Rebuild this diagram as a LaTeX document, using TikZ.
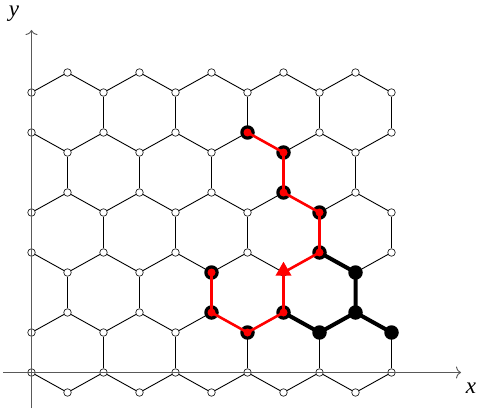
\documentclass[tikz,border=0pt]{standalone}
\usepackage{fontspec}
\setmainfont{Liberation Serif}
\usetikzlibrary{arrows.meta,shapes.geometric}
\begin{document}
\begin{tikzpicture}[x=1pt,y=1pt,
  vtx/.style={circle,draw=black,line width=0.6pt,fill=white,inner sep=0pt,minimum size=7.5pt},
  latedge/.style={black,line width=0.9pt},
  axisline/.style={draw=black!65,line width=0.9pt,-{To[width=12pt,length=5pt]}},
  blackpath/.style={black,line width=4pt},
  redpath/.style={red,line width=2.6pt},
  bigdot/.style={circle,fill=black,inner sep=0pt,minimum size=14.5pt},
  redcore/.style={circle,fill=red,inner sep=0pt,minimum size=8pt},
  tri/.style={regular polygon,regular polygon sides=3,fill=red,inner sep=0pt,minimum size=18.5pt},
  lbl/.style={inner sep=0pt,font=\fontsize{23}{28}\selectfont\itshape}]
\useasboundingbox (0,0) rectangle (480,416);
\begin{scope}[shift={(31.5,43.5)},x=36pt,y=20pt]
  % vertices
  \foreach \i in {0,2,...,10} {
    \foreach \L in {0,2,6,8,12,14} {
      \node[vtx] (v\i x\L) at (\i,\L) {};
    }
  }
  \foreach \i in {1,3,...,9} {
    \foreach \L in {-1,3,5,9,11,15} {
      \node[vtx] (v\i x\L) at (\i,\L) {};
    }
  }
  % vertical edges
  \foreach \i in {0,2,...,10} {
    \foreach \a/\b in {0/2,6/8,12/14} {
      \draw[latedge] (v\i x\a) -- (v\i x\b);
    }
  }
  \foreach \i in {1,3,...,9} {
    \foreach \a/\b in {3/5,9/11} {
      \draw[latedge] (v\i x\a) -- (v\i x\b);
    }
  }
  % diagonal edges
  \foreach \i in {0,2,...,10} {
    \foreach \a/\b in {0/-1,6/5,12/11,2/3,8/9,14/15} {
      \ifnum\i>0
        \pgfmathtruncatemacro{\lft}{\i-1}
        \draw[latedge] (v\i x\a) -- (v\lft x\b);
      \fi
      \ifnum\i<10
        \pgfmathtruncatemacro{\rgt}{\i+1}
        \draw[latedge] (v\i x\a) -- (v\rgt x\b);
      \fi
    }
  }
\end{scope}
% axes
\coordinate (xs) at (3,43.5);
\coordinate (xe) at (461,43.5);
\coordinate (ys) at (31.5,8);
\coordinate (ye) at (31.5,386);
\draw[axisline] (xs) -- (xe);
\draw[axisline] (ys) -- (ye);
\node[lbl] (xl) at (471,28) {x};
\node[lbl] (yl) at (14,402) {y};
% highlighted black path
\draw[blackpath] (v8x6) -- (v9x5) -- (v9x3) -- (v10x2);
\draw[blackpath] (v9x3) -- (v8x2) -- (v7x3);
% big dots
\foreach \n in {v6x12,v7x11,v7x9,v8x8,v8x6,v5x5,v5x3,v6x2,v7x3,v9x5,v9x3,v8x2,v10x2} {
  \node[bigdot] (b\n) at (\n) {};
}
% red path
\draw[redpath] (v6x12.center) -- (v7x11.center) -- (v7x9.center) -- (v8x8.center) -- (v8x6.center) -- (v7x5.center);
\draw[redpath] (v7x3.center) -- (v7x5.center);
\draw[redpath] (v5x5.center) -- (v5x3.center) -- (v6x2.center) -- (v7x3.center);
\foreach \n in {v6x12,v7x11,v7x9,v8x8,v8x6,v5x5,v5x3,v6x2,v7x3} {
  \node[redcore] (r\n) at (\n) {};
}
\node[tri,yshift=1.5pt] (arrowtip) at (v7x5) {};
\end{tikzpicture}
\end{document}
